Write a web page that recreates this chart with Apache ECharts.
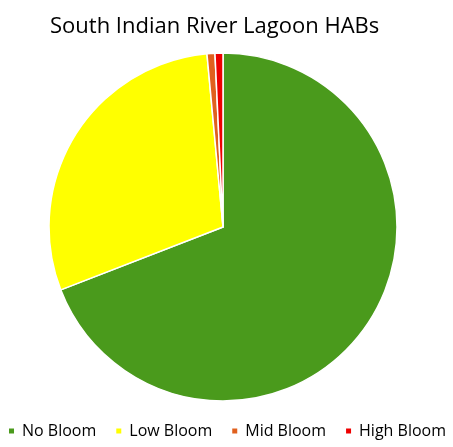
<!DOCTYPE html>
<html><head><meta charset="utf-8">
<script src="https://cdn.jsdelivr.net/npm/echarts@6/dist/echarts.min.js"></script>
<style>html,body{margin:0;padding:0;background:#fff}#c{width:453px;height:447px}</style>
</head><body><div id="c"></div>
<script>
const categories = ['No Bloom', 'Low Bloom', 'Mid Bloom', 'High Bloom'];
const values = [94, 40, 1, 1];
const colors = ['#4A9A1C', '#FFFF00', '#E0601E', '#EE0000'];

const chart = echarts.init(document.getElementById('c'), null, {renderer: 'canvas'});
chart.setOption({
  animation: false,
  title: {
    text: 'South Indian River Lagoon HABs',
    left: 45, top: 11,
    textStyle: {fontFamily: 'Open Sans', fontSize: 22, fontWeight: 'normal', color: '#000'}
  },
  legend: {
    bottom: 8, left: 'center', width: 450, padding: 0,
    icon: 'rect', itemWidth: 7, itemHeight: 7, itemGap: 18,
    data: categories,
    textStyle: {fontFamily: 'Open Sans', fontSize: 16, color: '#000', padding: [0, 0, 0, 2]}
  },
  series: [{
    type: 'pie',
    center: [223, 227],
    radius: 174,
    startAngle: 90,
    clockwise: true,
    label: {show: false},
    labelLine: {show: false},
    emphasis: {disabled: true},
    itemStyle: {borderColor: '#fff', borderWidth: 1.5},
    data: categories.map((c, i) => ({name: c, value: values[i], itemStyle: {color: colors[i]}}))
  }]
});
</script></body></html>
